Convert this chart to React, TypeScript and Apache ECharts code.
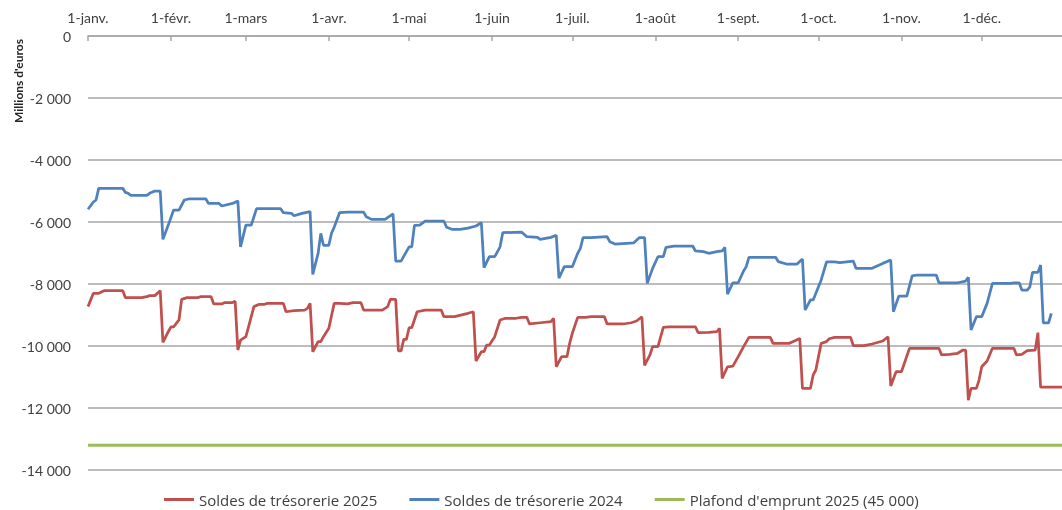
import React, { useEffect, useRef } from "react";
import * as echarts from "echarts";

const monthNames = ["janv.", "févr.", "mars", "avr.", "mai", "juin", "juil.", "août", "sept.", "oct.", "nov.", "déc."];
const monthDays = [31, 28, 31, 30, 31, 30, 31, 31, 30, 31, 30, 31];

// [day index from 1 Jan, value in millions of euros]
const soldes2025: [number, number][] = [
  [0,-8730],[2,-8300],[4,-8300],[6,-8215],[13,-8215],[14,-8440],[20,-8440],[22,-8410],[23,-8375],[25,-8375],[27,-8215],
  [28,-9880],[30,-9540],[31,-9380],[32,-9380],[34,-9160],[35,-8495],[37,-8440],[41,-8440],[42,-8410],[46,-8410],[47,-8645],[50,-8645],[51,-8600],[54,-8600],[55,-8560],
  [56,-10130],[57,-9810],[59,-9700],[60,-9380],[62,-8730],[64,-8655],[66,-8655],[67,-8625],[73,-8625],[74,-8895],[77,-8860],[81,-8840],[82,-8785],[83,-8625],
  [84,-10185],[86,-9860],[87,-9860],[88,-9700],[90,-9430],[92,-8625],[94,-8625],[97,-8640],[99,-8600],[102,-8600],[103,-8840],[110,-8840],[112,-8730],[113,-8495],[115,-8495],
  [116,-10160],[117,-10160],[118,-9785],[119,-9785],[120,-9410],[121,-9410],[123,-8895],[126,-8840],[132,-8840],[133,-9055],[137,-9055],[142,-8945],[144,-8895],
  [145,-10485],[147,-10185],[148,-10185],[149,-9970],[150,-9970],[152,-9700],[154,-9160],[156,-9105],[160,-9105],[162,-9075],[164,-9075],[165,-9290],[169,-9250],[173,-9215],[174,-9105],
  [175,-10670],[177,-10345],[179,-10345],[180,-9915],[181,-9590],[183,-9075],[186,-9075],[188,-9055],[193,-9055],[194,-9290],[200,-9290],[203,-9250],[205,-9195],[207,-9055],
  [208,-10625],[210,-10290],[211,-10020],[213,-10020],[215,-9400],[217,-9380],[227,-9380],[228,-9570],[232,-9560],[235,-9540],[236,-9430],
  [237,-11045],[239,-10670],[241,-10650],[243,-10345],[245,-10020],[247,-9720],[251,-9720],[255,-9720],[256,-9915],[262,-9915],[264,-9840],[266,-9755],
  [267,-11365],[270,-11365],[271,-10935],[272,-10775],[274,-9915],[276,-9860],[277,-9765],[279,-9720],[285,-9720],[286,-9990],[290,-9990],[293,-9935],[297,-9840],[299,-9700],
  [300,-11290],[302,-10830],[304,-10830],[307,-10075],[312,-10075],[318,-10075],[319,-10290],[322,-10270],[325,-10235],[327,-10130],[328,-10130],
  [329,-11750],[330,-11365],[332,-11365],[333,-11100],[334,-10670],[336,-10485],[338,-10075],[346,-10075],[347,-10290],[349,-10270],[351,-10150],[354,-10130],[355,-9570],
  [356,-11330],[364,-11330],
];

const soldes2024: [number, number][] = [
  [0,-5590],[2,-5355],[3,-5290],[4,-4915],[13,-4915],[14,-5045],[15,-5075],[16,-5140],[22,-5140],[23,-5075],[25,-5000],[27,-5000],
  [28,-6560],[30,-6100],[32,-5615],[34,-5615],[36,-5290],[38,-5250],[44,-5250],[45,-5400],[49,-5400],[50,-5485],[54,-5400],[56,-5320],
  [57,-6800],[59,-6100],[61,-6100],[63,-5570],[72,-5570],[73,-5700],[76,-5720],[77,-5800],[80,-5720],[83,-5665],
  [84,-7690],[86,-7010],[87,-6365],[88,-6750],[90,-6750],[91,-6365],[92,-6170],[94,-5700],[97,-5680],[103,-5680],[104,-5830],[106,-5915],[111,-5915],[114,-5740],
  [115,-7260],[117,-7260],[120,-6800],[121,-6800],[122,-6110],[124,-6100],[126,-5970],[133,-5970],[134,-6170],[136,-6235],[139,-6235],[142,-6195],[145,-6130],[147,-6020],
  [148,-7475],[150,-7120],[152,-7120],[154,-6800],[155,-6345],[162,-6325],[164,-6475],[168,-6495],[169,-6560],[173,-6495],[175,-6430],
  [176,-7815],[178,-7440],[181,-7440],[183,-7010],[184,-6850],[185,-6505],[188,-6505],[194,-6475],[195,-6635],[197,-6710],[204,-6670],[206,-6505],[208,-6505],
  [209,-7980],[211,-7495],[213,-7120],[215,-7120],[216,-6820],[219,-6775],[226,-6775],[227,-6935],[230,-6955],[232,-7010],[235,-6955],[237,-6935],[238,-6820],
  [239,-8325],[241,-7960],[243,-7960],[245,-7580],[246,-7440],[247,-7140],[257,-7140],[258,-7280],[261,-7355],[265,-7355],[267,-7195],
  [268,-8840],[270,-8515],[271,-8515],[274,-7870],[276,-7290],[279,-7290],[281,-7310],[286,-7260],[287,-7495],[293,-7495],[297,-7335],[300,-7225],
  [301,-8895],[303,-8390],[306,-8390],[308,-7740],[310,-7710],[317,-7710],[318,-7960],[325,-7960],[328,-7905],[329,-7785],
  [330,-9485],[332,-9055],[334,-9055],[336,-8625],[338,-7980],[345,-7980],[346,-7960],[348,-7960],[349,-8195],[351,-8195],[352,-8090],[353,-7625],[355,-7625],[356,-7390],
  [357,-9250],[359,-9250],[360,-8950],
];

const plafond2025: [number, number][] = [[0, -13200], [364, -13200]];

const seriesNames = ["Soldes de trésorerie 2025", "Soldes de trésorerie 2024", "Plafond d'emprunt 2025 (45 000)"];
const seriesColors = ["#c0504d", "#4f81bd", "#9bbb59"];

const categories: string[] = [];
const isMonthStart: boolean[] = [];
monthDays.forEach((n, m) => {
  for (let d = 1; d <= n; d++) {
    categories.push(`${d}-${monthNames[m]}`);
    isMonthStart.push(d === 1);
  }
});

const fmt = (v: number) => {
  const a = Math.abs(v);
  const s = a >= 1000 ? `${Math.floor(a / 1000)} ${String(a % 1000).padStart(3, "0")}` : String(a);
  return (v < 0 ? "-" : "") + s;
};

const FONT = "Lato";
const TXT = "#404040";
const GRIDC = "#a6a6a6";

export default function App() {
  const ref = useRef<HTMLDivElement>(null);
  useEffect(() => {
    const chart = echarts.init(ref.current!, null, { renderer: "svg" });
    chart.setOption({
      animation: false,
      textStyle: { fontFamily: FONT },
      grid: { left: 88, top: 36, width: 984, height: 434 },
      legend: {
        left: 164,
        top: 492,
        padding: 0,
        itemGap: 32,
        itemWidth: 30,
        itemHeight: 3,
        icon: "rect",
        textStyle: { fontFamily: "Open Sans", fontSize: 15, color: TXT },
        data: seriesNames,
      },
      graphic: [
        {
          type: "text",
          x: 18,
          y: 81,
          rotation: Math.PI / 2,
          style: {
            text: "Millions d'euros",
            fontFamily: FONT,
            fontSize: 12,
            fontWeight: "bold",
            fill: "#262626",
            textAlign: "center",
            textVerticalAlign: "middle",
          },
        },
      ],
      xAxis: {
        type: "category",
        position: "top",
        data: categories,
        boundaryGap: false,
        axisLine: { show: true, lineStyle: { color: GRIDC, width: 1.5 } },
        axisTick: {
          show: true,
          inside: true,
          length: 5,
          interval: (i: number) => isMonthStart[i],
          lineStyle: { color: GRIDC, width: 1.5 },
        },
        axisLabel: {
          interval: (i: number) => isMonthStart[i],
          margin: 12,
          fontFamily: FONT,
          fontSize: 14,
          color: TXT,
        },
        splitLine: { show: false },
      },
      yAxis: {
        type: "value",
        min: -14000,
        max: 0,
        interval: 2000,
        axisLine: { show: false },
        axisTick: { show: false },
        axisLabel: { margin: 17, fontFamily: FONT, fontSize: 14, color: TXT, formatter: fmt },
        splitLine: { show: true, lineStyle: { color: GRIDC, width: 1.5 } },
      },
      series: [
        { name: seriesNames[0], type: "line", data: soldes2025, showSymbol: false, color: seriesColors[0], lineStyle: { width: 2.75 } },
        { name: seriesNames[1], type: "line", data: soldes2024, showSymbol: false, color: seriesColors[1], lineStyle: { width: 2.75 } },
        { name: seriesNames[2], type: "line", data: plafond2025, showSymbol: false, color: seriesColors[2], lineStyle: { width: 3 } },
      ],
    });
    return () => chart.dispose();
  }, []);
  return <div ref={ref} style={{ position: "fixed", left: 0, top: 0, width: 1062, height: 510 }} />;
}
